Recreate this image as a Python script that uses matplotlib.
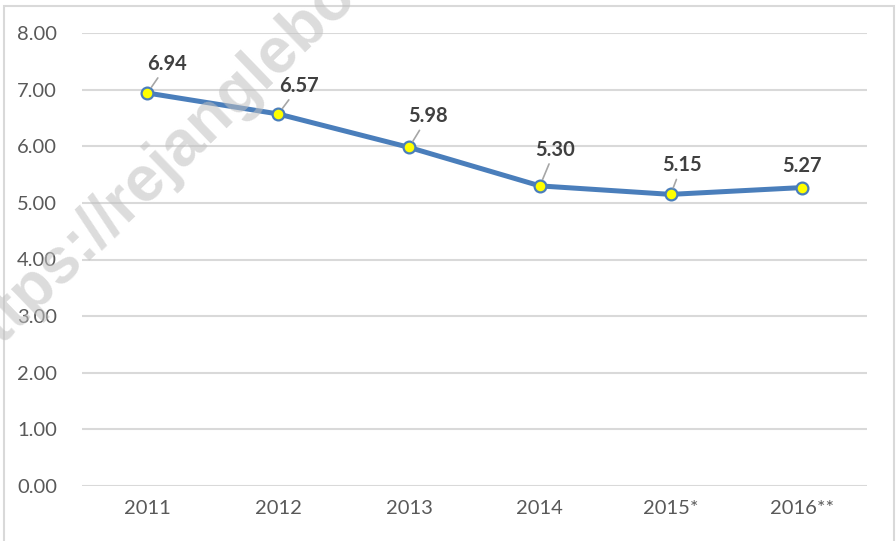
import numpy as np
import matplotlib.pyplot as plt
from matplotlib.patches import Rectangle

years = ['2011', '2012', '2013', '2014', '2015*', '2016**']
values = [6.94, 6.57, 5.98, 5.30, 5.15, 5.27]
yticks = [0, 1, 2, 3, 4, 5, 6, 7, 8]

# label offsets in pixels (dx, dy) from the point, leader line or not
label_offsets = [(20, 29), (21, 28), (19, 31), (15, 36), (11, 29), (0, 22)]
leader = [True, True, True, True, True, False]

plt.rcParams['font.family'] = ['Lato', 'DejaVu Sans']

fig = plt.figure(figsize=(8.96, 5.41), dpi=100)
ax = fig.add_axes([82 / 896, 1 - 486 / 541, 785 / 896, 453 / 541])

x = np.arange(len(years))
ax.plot(x, values, color='#4a7ebb', lw=3.6, zorder=3, solid_capstyle='round',
        marker='o', markersize=8.5, markerfacecolor='#ffff00',
        markeredgecolor='#4a7ebb', markeredgewidth=1.6)

for i, v in enumerate(values):
    dx, dy = label_offsets[i]
    props = None
    if leader[i]:
        props = dict(arrowstyle='-', color='#a6a6a6', lw=1.2, shrinkA=1, shrinkB=5)
    ax.annotate('%.2f' % v, (x[i], v), xytext=(dx * 0.72, dy * 0.72),
                textcoords='offset points', ha='center', va='center',
                fontsize=14.5, fontweight='bold', color='#404040',
                arrowprops=props, zorder=4)

ax.set_xlim(-0.5, len(years) - 0.5)
ax.set_ylim(0, 8)
ax.set_yticks(yticks)
ax.set_yticklabels(['%.2f' % t for t in yticks])
ax.set_xticks(x)
ax.set_xticklabels(years)
ax.grid(axis='y', color='#d9d9d9', lw=1.5)
ax.set_axisbelow(True)
for s in ax.spines.values():
    s.set_visible(False)
ax.tick_params(length=0, labelsize=14.5, colors='#595959', pad=10)
ax.tick_params(axis='y', pad=18)

# chart border
fig.patches.append(Rectangle((4 / 896, -0.1), 890 / 896, 1.1 - 6 / 541,
                             transform=fig.transFigure, fill=False,
                             ec='#d9d9d9', lw=1.5))

# watermark
fig.text(-28 / 896, 1 - 370 / 541, 'https://rejanglebongkab.bps.go.id',
         rotation=44, rotation_mode='anchor', ha='left', va='baseline',
         family='Liberation Sans', fontsize=46, fontweight='bold',
         color='#c0c0c0', alpha=0.55, zorder=10)

plt.savefig('out.png', dpi=100)
